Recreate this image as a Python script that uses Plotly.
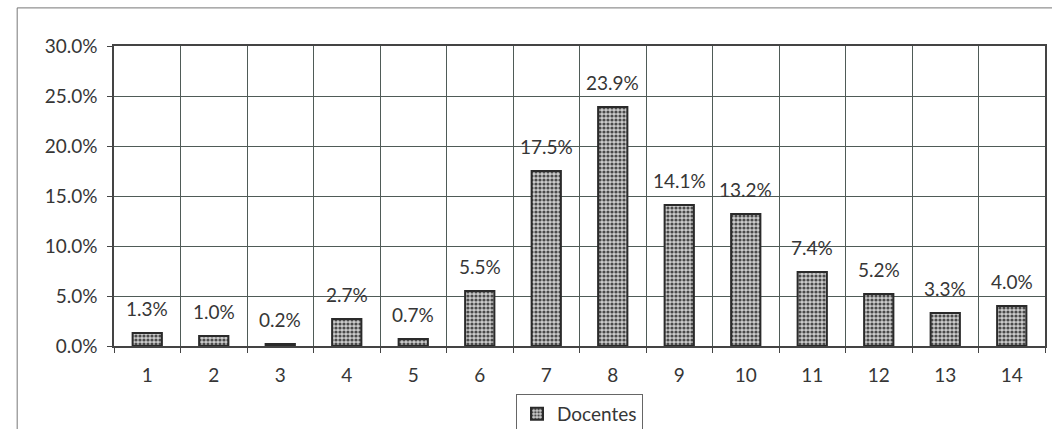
import plotly.graph_objects as go

# Categorías (eje x) y porcentaje de docentes por categoría
categorias = list(range(1, 15))
docentes = [1.3, 1.0, 0.2, 2.7, 0.7, 5.5, 17.5, 23.9, 14.1, 13.2, 7.4, 5.2, 3.3, 4.0]
etiquetas_y = ["0.0%", "5.0%", "10.0%", "15.0%", "20.0%", "25.0%", "30.0%"]
valores_y = [0, 5, 10, 15, 20, 25, 30]

FONT = "Lato, 'DejaVu Sans', sans-serif"
FS = 19
TXT = "#363636"
GRID = "#4f5b57"

fig = go.Figure()
fig.add_trace(go.Bar(
    x=categorias,
    y=docentes,
    name="Docentes",
    width=0.44,
    marker=dict(
        color="#bdbdbd",
        line=dict(color="#2a2a2a", width=2),
        pattern=dict(shape=".", fgcolor="#4a4a4a", bgcolor="#cccccc",
                     size=4, solidity=0.5, fillmode="replace"),
    ),
))

# Etiquetas de valor sobre cada barra
for c, v in zip(categorias, docentes):
    fig.add_annotation(
        x=c, y=v, xref="x", yref="y",
        text=f"{v:.1f}%", showarrow=False,
        yanchor="middle", yshift=25,
        font=dict(family=FONT, size=FS, color=TXT),
    )

# Marco exterior del gráfico (borde superior e izquierdo)
fig.add_shape(type="line", xref="paper", yref="paper",
              x0=-0.104, x1=1.05, y0=1.127, y1=1.127,
              line=dict(color="#777777", width=1))
fig.add_shape(type="line", xref="paper", yref="paper",
              x0=-0.104, x1=-0.104, y0=1.127, y1=-0.4,
              line=dict(color="#777777", width=1))

fig.update_layout(
    width=1052, height=429,
    margin=dict(l=114, r=7, t=46, b=83, autoexpand=False),
    paper_bgcolor="white",
    plot_bgcolor="white",
    font=dict(family=FONT, size=FS, color=TXT),
    showlegend=True,
    legend=dict(
        orientation="h", x=0.5, xanchor="center",
        yref="container", y=1 - 394 / 429, yanchor="top",
        bordercolor="#666666", borderwidth=1,
        font=dict(family=FONT, size=FS, color=TXT),
        itemwidth=30,
    ),
    xaxis=dict(
        range=[0.5, 14.5],
        tickmode="array", tickvals=categorias,
        ticktext=[str(c) for c in categorias],
        ticks="", showgrid=False,
        showline=True, linecolor="#444444", linewidth=1.5, mirror=True,
        ticklabelstandoff=11,
        minor=dict(tick0=0.5, dtick=1, showgrid=True, gridcolor=GRID,
                   gridwidth=1, ticks="outside", ticklen=5, tickcolor="#444444"),
        zeroline=False,
    ),
    yaxis=dict(
        range=[0, 30],
        tickmode="array", tickvals=valores_y, ticktext=etiquetas_y,
        ticks="outside", ticklen=5, tickcolor="#444444",
        showgrid=True, gridcolor=GRID, gridwidth=1,
        showline=True, linecolor="#444444", linewidth=1.5, mirror=True,
        ticklabelstandoff=6,
        zeroline=False,
    ),
)

fig.write_html("out.html")
